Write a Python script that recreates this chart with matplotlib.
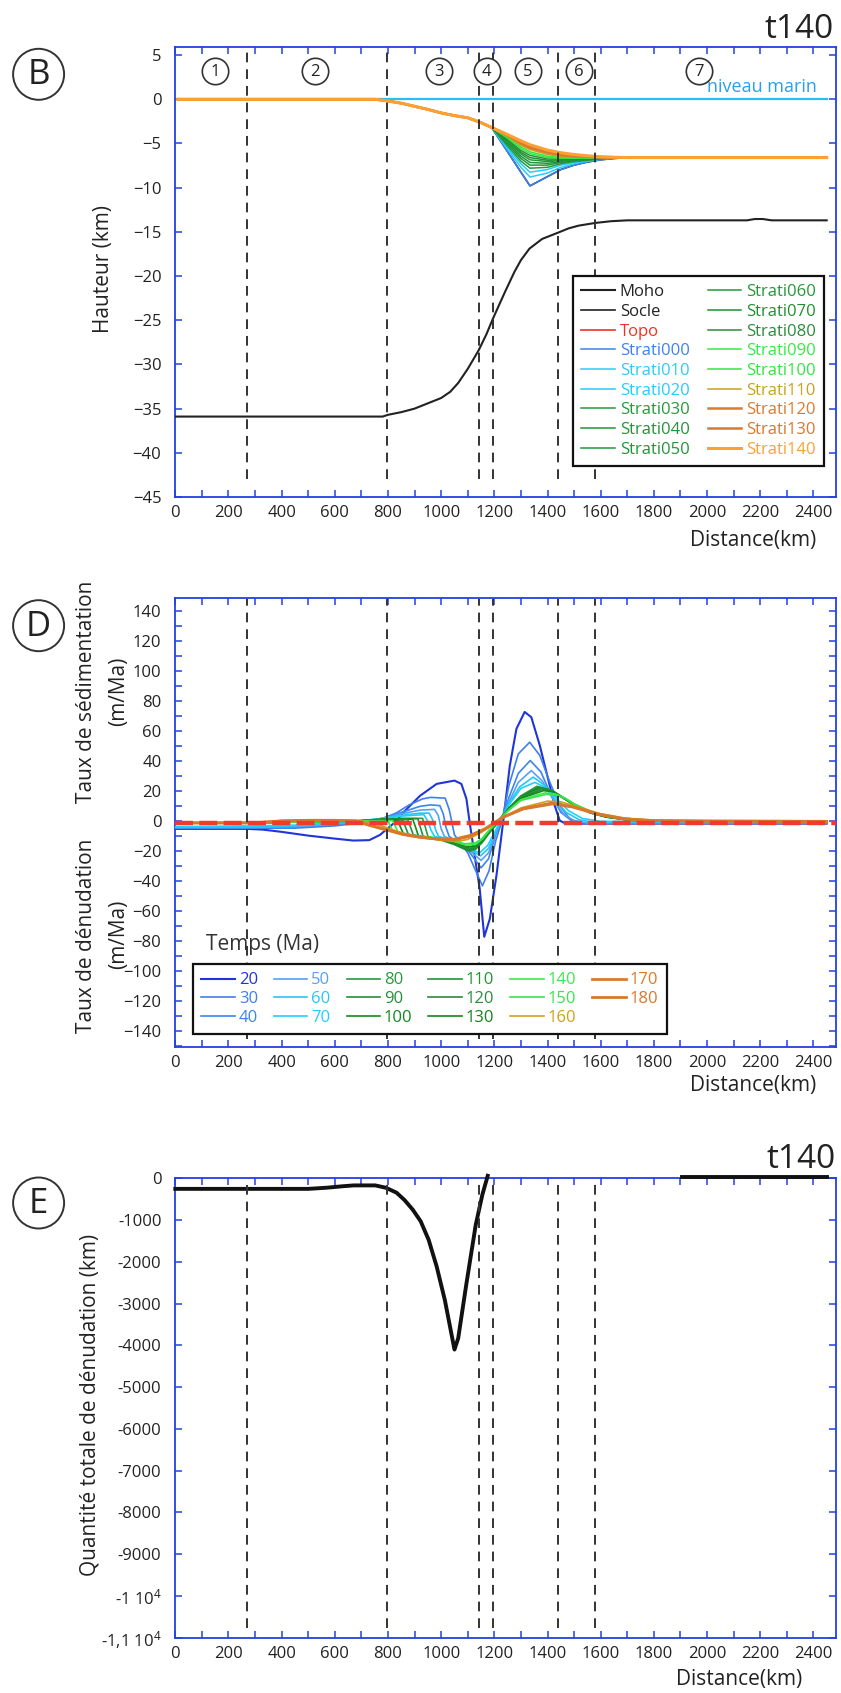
import matplotlib
matplotlib.use('Agg')
import matplotlib.pyplot as plt
from matplotlib.patches import Circle
from matplotlib.ticker import MultipleLocator

plt.rcParams['font.family'] = ['Open Sans', 'DejaVu Sans']
plt.rcParams['mathtext.fontset'] = 'custom'
plt.rcParams['mathtext.rm'] = 'Open Sans'
plt.rcParams['mathtext.it'] = 'Open Sans'
plt.rcParams['mathtext.bf'] = 'Open Sans'
plt.rcParams['lines.scale_dashes'] = False

# ---------------- shared ----------------
region_x = [268, 798, 1142, 1196, 1439, 1579]
zone_x = [151, 526, 993, 1171, 1326, 1517, 1971]
zone_labels = ['1', '2', '3', '4', '5', '6', '7']
zone_y = 3.2

# ---------------- Panel B data ----------------
moho_x = [0, 780, 800, 850, 900, 950, 1000, 1034, 1064, 1100, 1141, 1170, 1195, 1240, 1276,
          1300, 1332, 1380, 1439, 1480, 1517, 1578, 1638, 1700, 2150, 2180, 2210, 2243, 2450]
moho_z = [-35.9, -35.9, -35.7, -35.4, -35.0, -34.4, -33.8, -33.1, -32.1, -30.5, -28.4, -26.6,
          -24.8, -21.8, -19.5, -18.2, -16.9, -15.8, -15.1, -14.6, -14.3, -14.0, -13.8, -13.7,
          -13.7, -13.55, -13.55, -13.7, -13.7]
sea_x = [10, 2450]
sea_z = [0, 0]
topo_x = [10, 300, 600, 700, 750, 800, 850, 900, 950, 1000, 1050, 1100, 1150]
topo_z = [0, 0, 0, 0, 0, -0.2, -0.45, -0.8, -1.15, -1.55, -1.85, -2.1, -2.65]
strat_x = [1190, 1250, 1300, 1334, 1400, 1450, 1500, 1550, 1600, 1650, 1700, 2450]
strati_000 = [-3.2, -5.95, -8.25, -9.8, -8.75, -7.95, -7.45, -7.1, -6.85, -6.7, -6.6, -6.6]
strati_010 = [-3.2, -5.7, -7.7, -8.8, -8.35, -7.7, -7.3, -7.0, -6.8, -6.65, -6.6, -6.6]
strati_020 = [-3.2, -5.5, -7.3, -8.25, -7.95, -7.45, -7.15, -6.95, -6.75, -6.65, -6.6, -6.6]
strati_030 = [-3.2, -5.3, -7.0, -7.8, -7.7, -7.3, -7.05, -6.9, -6.75, -6.65, -6.6, -6.6]
strati_040 = [-3.2, -5.1, -6.7, -7.45, -7.45, -7.15, -6.95, -6.85, -6.7, -6.65, -6.6, -6.6]
strati_050 = [-3.2, -4.95, -6.45, -7.15, -7.25, -7.05, -6.9, -6.8, -6.7, -6.62, -6.6, -6.6]
strati_060 = [-3.2, -4.8, -6.2, -6.85, -7.05, -6.95, -6.85, -6.75, -6.68, -6.62, -6.6, -6.6]
strati_070 = [-3.2, -4.65, -6.0, -6.6, -6.9, -6.85, -6.8, -6.72, -6.66, -6.62, -6.6, -6.6]
strati_080 = [-3.2, -4.5, -5.8, -6.35, -6.75, -6.75, -6.72, -6.68, -6.64, -6.6, -6.6, -6.6]
strati_090 = [-3.2, -4.4, -5.6, -6.15, -6.6, -6.67, -6.67, -6.65, -6.62, -6.6, -6.6, -6.6]
strati_100 = [-3.2, -4.3, -5.4, -5.95, -6.45, -6.58, -6.62, -6.62, -6.6, -6.6, -6.6, -6.6]
strati_110 = [-3.2, -4.2, -5.2, -5.7, -6.25, -6.45, -6.55, -6.58, -6.6, -6.6, -6.6, -6.6]
strati_120 = [-3.2, -4.1, -5.0, -5.5, -6.05, -6.3, -6.45, -6.52, -6.57, -6.6, -6.6, -6.6]
strati_130 = [-3.2, -4.05, -4.85, -5.35, -5.9, -6.15, -6.35, -6.47, -6.54, -6.58, -6.6, -6.6]
strati_140 = [-3.2, -4.0, -4.7, -5.15, -5.75, -6.05, -6.25, -6.4, -6.5, -6.56, -6.6, -6.6]
strati_names = ['Strati000', 'Strati010', 'Strati020', 'Strati030', 'Strati040', 'Strati050',
                'Strati060', 'Strati070', 'Strati080', 'Strati090', 'Strati100', 'Strati110',
                'Strati120', 'Strati130', 'Strati140']
strati_list = [strati_000, strati_010, strati_020, strati_030, strati_040, strati_050,
               strati_060, strati_070, strati_080, strati_090, strati_100, strati_110,
               strati_120, strati_130, strati_140]
strati_colors = ['#3b84ee', '#2ccaf8', '#22ccff', '#259a38', '#22943a', '#22943a', '#23983a',
                 '#1f9030', '#2a8c3c', '#38ea44', '#33e640', '#c9a21e', '#dc7a2e', '#d9782e',
                 '#ffa033']

# ---------------- Panel D data (distance km, rate m/Ma) ----------------
rate_t020 = [(0, -5), (270, -5), (330, -5.5), (400, -7), (500, -9.5), (600, -11.5), (670, -12.8),
             (730, -12.5), (770, -9), (800, -4.5), (830, 0), (858, 6), (920, 17), (983, 25),
             (1050, 27.2), (1076, 25), (1095, 15), (1107, -0.5), (1126, -23), (1145, -45),
             (1162, -77), (1183, -65), (1208, -36), (1233, -0.5), (1258, 37), (1283, 61.7),
             (1314, 73), (1339, 69.5), (1371, 50.6), (1402, 28.4), (1427, 10.5), (1446, 0.5),
             (1471, -1.7), (1550, -1.5), (2450, -1.5)]
rate_t030 = [(0, -4.5), (300, -4.5), (450, -4.5), (600, -3), (700, -1), (780, 2), (830, 5.5),
             (880, 11), (930, 15), (960, 16), (1015, 15.5), (1030, 8), (1040, -0.5), (1050, -9),
             (1100, -21), (1130, -33), (1155, -43), (1180, -33), (1205, -13), (1228, 0),
             (1255, 24), (1290, 45), (1333, 52.8), (1371, 44), (1409, 26), (1446, 10.5),
             (1484, 1.7), (1521, -1), (2450, -1)]
rate_t040 = [(0, -4.5), (300, -4.5), (450, -4), (600, -2.5), (700, -0.5), (780, 2), (850, 6),
             (920, 10), (960, 11), (995, 10.5), (1008, 5), (1018, -4), (1030, -10), (1100, -19),
             (1150, -31), (1178, -25), (1205, -9), (1228, 1), (1255, 16), (1290, 32),
             (1335, 40.6), (1375, 33), (1412, 18), (1450, 6), (1490, 0.5), (1530, -1), (2450, -1)]
rate_t050 = [(0, -4), (300, -4), (450, -3.5), (600, -2), (700, 0), (780, 2), (850, 5), (920, 7.5),
             (975, 8), (989, 4), (1000, -5), (1012, -10), (1050, -13), (1100, -18.5), (1150, -26),
             (1178, -21), (1205, -8), (1228, 1.5), (1255, 13), (1290, 26), (1339, 33.9),
             (1380, 27), (1420, 15), (1460, 5), (1500, 0.5), (1550, -1), (2450, -1)]
rate_t060 = [(0, -4), (300, -3.5), (450, -3), (600, -1.5), (700, 0.3), (780, 2), (850, 4),
             (920, 5.5), (955, 5.5), (968, 1), (980, -6), (990, -10), (1050, -13), (1100, -18),
             (1148, -23), (1178, -18), (1205, -7), (1228, 2), (1255, 12), (1295, 23),
             (1346, 29.5), (1390, 24), (1430, 14), (1470, 6), (1520, 1), (1570, -0.5), (2450, -0.5)]
rate_t070 = [(0, -3.5), (300, -3), (450, -2.5), (600, -1), (700, 0.5), (780, 2), (850, 3.5),
             (935, 4.5), (950, 0), (962, -6), (975, -10), (1050, -13.5), (1100, -17.5),
             (1145, -21), (1175, -16), (1205, -6), (1228, 2.5), (1255, 11), (1300, 22),
             (1352, 26), (1400, 22), (1440, 14), (1480, 7), (1530, 2), (1600, 0), (2450, -0.5)]
rate_t080 = [(0, -1), (300, -1), (450, -0.5), (600, 0), (700, 0.5), (780, 1.5), (850, 2), (930, 2),
             (939, -3), (950, -10), (1000, -12.5), (1050, -15.5), (1105, -20), (1130, -18.5),
             (1155, -14), (1180, -8), (1205, -2.5), (1228, 3), (1255, 9), (1300, 17),
             (1360, 23.4), (1400, 21.5), (1446, 17.2), (1500, 11), (1559, 5.7), (1621, 2.8),
             (1709, 0.7), (1800, 0.3), (2450, 0)]
rate_t090 = [(0, -1), (300, -1), (450, -0.5), (600, 0), (700, 0.5), (780, 1.5), (850, 1.8),
             (912, 1.8), (920, -3), (932, -10), (1000, -12.2), (1050, -15.2), (1105, -19.5),
             (1130, -18), (1155, -13.5), (1180, -7.5), (1205, -2.3), (1228, 3), (1255, 9),
             (1300, 16.8), (1365, 22.8), (1405, 21.2), (1446, 17), (1500, 11), (1559, 5.8),
             (1621, 2.9), (1709, 0.8), (1800, 0.3), (2450, 0)]
rate_t100 = [(0, -1), (300, -1), (450, -0.5), (600, 0), (700, 0.5), (780, 1.3), (893, 1.5),
             (902, -3), (914, -9.5), (1000, -12), (1050, -15), (1105, -19), (1130, -17.7),
             (1155, -13.2), (1180, -7.2), (1205, -2.2), (1228, 3), (1255, 8.8), (1300, 16.5),
             (1370, 22.3), (1410, 21), (1446, 17), (1500, 11.2), (1559, 6), (1621, 3),
             (1709, 0.9), (1800, 0.3), (2450, 0)]
rate_t110 = [(0, -1), (300, -1), (450, -0.5), (600, 0), (700, 0.4), (780, 1.1), (874, 1.2),
             (883, -3), (895, -9), (950, -10.8), (1000, -11.8), (1050, -14.7), (1105, -18.5),
             (1130, -17.3), (1155, -13), (1180, -7), (1205, -2), (1228, 3), (1255, 8.6),
             (1300, 16.2), (1375, 21.8), (1415, 20.7), (1446, 17), (1500, 11.3), (1559, 6.2),
             (1621, 3.1), (1709, 1), (1800, 0.3), (2450, 0)]
rate_t120 = [(0, -1), (300, -1), (450, -0.5), (600, 0), (700, 0.4), (780, 0.9), (855, 1),
             (864, -3), (876, -8.5), (900, -9.7), (950, -10.7), (1000, -11.7), (1050, -14.4),
             (1105, -18), (1130, -17), (1155, -12.7), (1180, -6.8), (1205, -1.9), (1228, 3),
             (1255, 8.4), (1300, 15.8), (1380, 21.3), (1420, 20.3), (1446, 17), (1500, 11.4),
             (1559, 6.4), (1621, 3.2), (1709, 1.1), (1800, 0.3), (2450, 0)]
rate_t130 = [(0, -1), (300, -1), (450, -0.5), (600, 0), (700, 0.3), (780, 0.7), (836, 0.8),
             (845, -3), (857, -8), (900, -9.6), (950, -10.6), (1000, -11.6), (1050, -14),
             (1100, -17), (1130, -16.3), (1155, -12.3), (1180, -6.5), (1205, -1.8), (1228, 3),
             (1255, 8.2), (1300, 15.3), (1385, 20.5), (1425, 19.7), (1450, 17), (1500, 11.5),
             (1559, 6.6), (1621, 3.3), (1709, 1.2), (1800, 0.3), (2450, 0)]
rate_t140 = [(0, -1), (300, -1), (450, -0.5), (600, 0), (700, 0.3), (780, 0.5), (818, 0.5),
             (827, -3), (838, -7.3), (900, -9.5), (950, -10.5), (1000, -11.5), (1050, -13.5),
             (1095, -16), (1130, -15.3), (1155, -11.8), (1180, -6.2), (1205, -1.6), (1228, 3),
             (1255, 7.8), (1300, 14.5), (1390, 19), (1430, 18.3), (1460, 16), (1500, 11.6),
             (1559, 6.8), (1621, 3.4), (1709, 1.3), (1800, 0.4), (2450, 0)]
rate_t150 = [(0, -1), (300, -1), (450, -0.5), (600, 0), (700, 0.3), (800, 0.3), (808, -3),
             (818, -6.7), (850, -8.2), (900, -9.4), (950, -10.4), (1000, -11.4), (1050, -13.2),
             (1090, -15), (1130, -14.3), (1155, -11.2), (1180, -5.9), (1205, -1.4), (1228, 3),
             (1255, 7.6), (1300, 14), (1395, 18), (1435, 17.5), (1470, 15), (1500, 11.6),
             (1559, 7), (1621, 3.6), (1709, 1.4), (1800, 0.4), (2450, 0)]
rate_t160 = [(0, -1), (300, -1), (450, 0), (600, 0.5), (700, 0.3), (760, -2), (800, -4.5),
             (850, -7.5), (900, -9.6), (950, -11.2), (1000, -12.6), (1060, -13.5), (1100, -12),
             (1150, -7.5), (1205, -1), (1228, 2), (1300, 9), (1400, 13.5), (1450, 13),
             (1500, 10.5), (1600, 5), (1700, 2), (1800, 0.5), (2450, 0)]
rate_t170 = [(0, -1), (300, -1), (400, 0.3), (500, 0.7), (600, 0.7), (680, 0.3), (732, -2.5),
             (800, -5.7), (858, -8.6), (920, -10.5), (983, -11.8), (1050, -12.4), (1107, -10),
             (1164, -5.3), (1210, 0), (1233, 2.8), (1308, 8.5), (1415, 12.2), (1496, 9.8),
             (1584, 5.2), (1684, 1.8), (1800, 0.5), (2000, 0.2), (2450, 0)]
rate_t180 = [(0, -1), (300, -1), (400, 0.3), (500, 0.7), (600, 0.7), (680, 0.3), (732, -2.8),
             (800, -6), (858, -8.8), (920, -10.6), (983, -11.7), (1045, -12), (1107, -9.5),
             (1164, -5), (1208, 0), (1233, 2.8), (1308, 8.3), (1421, 11.7), (1496, 9.5),
             (1584, 5), (1684, 1.7), (1800, 0.5), (2000, 0.2), (2450, 0)]
rate_times = [20, 30, 40, 50, 60, 70, 80, 90, 100, 110, 120, 130, 140, 150, 160, 170, 180]
rate_series = [rate_t020, rate_t030, rate_t040, rate_t050, rate_t060, rate_t070, rate_t080,
               rate_t090, rate_t100, rate_t110, rate_t120, rate_t130, rate_t140, rate_t150,
               rate_t160, rate_t170, rate_t180]
rate_colors = ['#1f35d8', '#3f7fec', '#3a86f2', '#58a0f4', '#26c6f8', '#1ecfff', '#2a9a3e',
               '#24913a', '#128a1c', '#229536', '#2b8c40', '#13851c', '#3de84a', '#3ae448',
               '#cfa21a', '#de7a24', '#d9782c']
ref_x = [0, 2485]
ref_rate = [-1, -1]

# ---------------- Panel E data ----------------
den_x = [0, 500, 570, 630, 671, 752, 792, 832, 862, 893, 923, 953, 983, 1014, 1050, 1064, 1094,
         1130, 1155, 1175]
den_z = [-253, -253, -225, -190, -170, -170, -226, -344, -520, -750, -1030, -1475, -2110, -2920,
         -4100, -3830, -2560, -1113, -390, 60]
den2_x = [1905, 2450]
den2_z = [36, 36]
e_yticks = [0, -1000, -2000, -3000, -4000, -5000, -6000, -7000, -8000, -9000, -10000, -11000]
e_ylabels = ['0', '-1000', '-2000', '-3000', '-4000', '-5000', '-6000', '-7000', '-8000',
             '-9000', r'-1 10$^{4}$', r'-1,1 10$^{4}$']

# ---------------- figure ----------------
W, H = 841, 1693
fig = plt.figure(figsize=(W / 100, H / 100), dpi=100)
BLUE = '#2340e6'
TXT = '#222222'
XMAX = 2485


def ax_at(l, t, r, b):
    return fig.add_axes([l / W, 1 - b / H, (r - l) / W, (b - t) / H])


def style(ax, ymajor, yminor=None):
    ax.set_xlim(0, XMAX)
    for s in ax.spines.values():
        s.set_color(BLUE)
        s.set_linewidth(1.3)
    ax.xaxis.set_major_locator(MultipleLocator(200))
    ax.xaxis.set_minor_locator(MultipleLocator(100))
    if ymajor is not None:
        ax.yaxis.set_major_locator(MultipleLocator(ymajor))
    if yminor is not None:
        ax.yaxis.set_minor_locator(MultipleLocator(yminor))
    ax.tick_params(which='both', direction='in', top=True, right=True, color=BLUE,
                   width=1.1, labelsize=12, labelcolor=TXT)
    ax.tick_params(which='major', length=5)
    ax.tick_params(which='minor', length=5)
    ax.tick_params(axis='x', pad=6)
    ax.tick_params(axis='y', pad=10)


def dashed(ax, y0, y1):
    ax.vlines(region_x, y0, y1, colors='#333333', linewidth=1.4,
              linestyles=[(0, (7, 5))], zorder=6)


def circled(xc, yc, letter):
    fig.add_artist(Circle((xc / 100, (H - yc) / 100), 0.255, transform=fig.dpi_scale_trans,
                          facecolor='white', edgecolor='#333333', linewidth=1.4))
    fig.text(xc / W, 1 - (yc + 1) / H, letter, ha='center', va='center', fontsize=25,
             color=TXT)


# ---------- Panel B ----------
axB = ax_at(175.3, 47.1, 836, 497)
style(axB, 5)
axB.set_ylim(-45, 5.9)
hB = []
hB += axB.plot(moho_x, moho_z, color='#222222', lw=1.5, label='Moho', zorder=3)
hB += axB.plot(topo_x + strat_x, topo_z + strati_000, color='#222222', lw=1.2, label='Socle',
               zorder=1)
hB += axB.plot(topo_x + strat_x, topo_z + strati_140, color='#ee3322', lw=1.2, label='Topo',
               zorder=1.5)
axB.plot(sea_x, sea_z, color='#2cbcf0', lw=1.6, zorder=2)
for name, zs, col in zip(strati_names, strati_list, strati_colors):
    lw = 2.2 if name == 'Strati140' else (1.8 if name in ('Strati120', 'Strati130') else 1.1)
    hB += axB.plot(topo_x + strat_x, topo_z + zs, color=col, lw=lw, label=name, zorder=3)
dashed(axB, -43, 5.4)
axB.plot(zone_x, [zone_y] * len(zone_x), 'o', ms=19, mfc='white', mec='#333333', mew=1.2,
         zorder=7, clip_on=False)
for zx, zl in zip(zone_x, zone_labels):
    axB.text(zx, zone_y - 0.1, zl, ha='center', va='center', fontsize=12, color=TXT, zorder=8)
axB.text(2412, 1.35, 'niveau marin', ha='right', va='center', fontsize=13, color='#2a9ff0')
legB = fig.legend(handles=hB, ncol=2, loc='upper left',
                  bbox_to_anchor=(573 / W, 1 - 276 / H), bbox_transform=fig.transFigure,
                  fontsize=12, handlelength=2.0, handletextpad=0.3, columnspacing=1.1,
                  labelspacing=0.22, borderpad=0.5, borderaxespad=0, fancybox=False,
                  framealpha=1, edgecolor='#111111')
legB.get_frame().set_linewidth(1.6)
for t, h in zip(legB.get_texts(), hB):
    t.set_color(h.get_color())
fig.text(104 / W, 1 - 269 / H, 'Hauteur (km)', rotation=90, ha='center', va='center',
         fontsize=15, color=TXT)
fig.text(816 / W, 1 - 540 / H, 'Distance(km)', ha='right', va='center', fontsize=15, color=TXT)
fig.text(834 / W, 1 - 38 / H, 't140', ha='right', va='baseline', fontsize=24, color=TXT)
circled(38.6, 74.3, 'B')

# ---------- Panel D ----------
axD = ax_at(175.3, 598, 836, 1047)
style(axD, 20, 10)
axD.set_ylim(-150.5, 149)
hD = []
for t, ser, col in zip(rate_times, rate_series, rate_colors):
    xs = [p[0] for p in ser]
    ys = [p[1] for p in ser]
    lw = 2.0 if t >= 170 else (1.5 if t == 20 else 1.2)
    hD += axD.plot(xs, ys, color=col, lw=lw, label=str(t), zorder=3)
dashed(axD, -145, 148)
axD.plot(ref_x, ref_rate, color='#f03a30', lw=3.2, linestyle=(0, (13, 4.5)), zorder=7,
         clip_on=False)
legD = fig.legend(handles=hD, ncol=6, loc='upper left',
                  bbox_to_anchor=(193 / W, 1 - 964 / H), bbox_transform=fig.transFigure,
                  fontsize=12, handlelength=2.0, handletextpad=0.25, columnspacing=0.95,
                  labelspacing=0.16, borderpad=0.5, borderaxespad=0, fancybox=False,
                  framealpha=1, edgecolor='#111111')
legD.get_frame().set_linewidth(1.6)
for t, h in zip(legD.get_texts(), hD):
    t.set_color(h.get_color())
fig.text(206 / W, 1 - 944 / H, 'Temps (Ma)', ha='left', va='center', fontsize=15, color='#333333')
fig.text(87 / W, 1 - 692 / H, 'Taux de sédimentation', rotation=90, ha='center', va='center',
         fontsize=15, color=TXT)
fig.text(118.5 / W, 1 - 691 / H, '(m/Ma)', rotation=90, ha='center', va='center',
         fontsize=15, color=TXT)
fig.text(87 / W, 1 - 936 / H, 'Taux de dénudation', rotation=90, ha='center', va='center',
         fontsize=15, color=TXT)
fig.text(118.5 / W, 1 - 934 / H, '(m/Ma)', rotation=90, ha='center', va='center',
         fontsize=15, color=TXT)
fig.text(816 / W, 1 - 1086 / H, 'Distance(km)', ha='right', va='center', fontsize=15, color=TXT)
circled(38.6, 625.7, 'D')

# ---------- Panel E ----------
axE = ax_at(175.3, 1178.3, 836, 1637.8)
style(axE, None)
axE.set_ylim(-11000, 0)
axE.set_yticks(e_yticks)
axE.set_yticklabels(e_ylabels)
axE.plot(den_x, den_z, color='#111111', lw=2.8, zorder=4, clip_on=False)
axE.plot(den2_x, den2_z, color='#111111', lw=2.8, zorder=4, clip_on=False)
dashed(axE, -10756, -72)
fig.text(90 / W, 1 - 1405 / H, 'Quantité totale de dénudation (km)', rotation=90, ha='center',
         va='center', fontsize=15, color=TXT)
fig.text(802 / W, 1 - 1679 / H, 'Distance(km)', ha='right', va='center', fontsize=15, color=TXT)
fig.text(836 / W, 1 - 1168 / H, 't140', ha='right', va='baseline', fontsize=24, color=TXT)
circled(38.6, 1203, 'E')

fig.savefig('out.png', dpi=100)
